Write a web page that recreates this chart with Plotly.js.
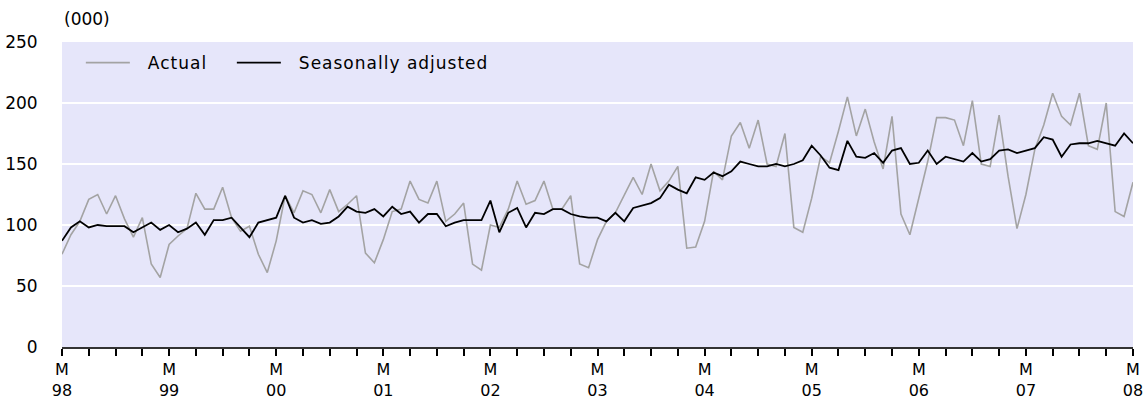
<!DOCTYPE html>
<html>
<head>
<meta charset="utf-8">
<script src="https://cdn.plot.ly/plotly-3.0.1.min.js"></script>
<style>
html,body{margin:0;padding:0;background:#fff;}
.legendtext{letter-spacing:1px;transform:translateX(13px);}
.legend .scrollbox{clip-path:none !important;}
</style>
</head>
<body>
<div id="chart" style="width:1143px;height:410px;"></div>
<script>
// Monthly observations, March 1998 to March 2008 (thousands)
const startYear = 1998;
const startMonth = 3;
const actual = [
  76, 92, 103, 121, 125, 109, 124, 105, 90, 106, 68, 57,
  84, 91, 97, 126, 113, 113, 131, 106, 95, 99, 76, 61,
  87, 124, 110, 128, 125, 110, 129, 111, 117, 124, 77, 69,
  88, 111, 113, 136, 121, 118, 136, 103, 109, 118, 68, 63,
  100, 98, 113, 136, 117, 120, 136, 113, 113, 124, 68, 65,
  88, 103, 110, 125, 139, 125, 150, 128, 136, 148, 81, 82,
  103, 144, 137, 173, 184, 163, 186, 150, 148, 175, 98, 94,
  122, 156, 151, 177, 205, 173, 195, 168, 146, 189, 109, 92,
  121, 152, 188, 188, 186, 165, 202, 150, 148, 190, 140, 97,
  125, 162, 182, 208, 189, 182, 208, 165, 162, 200, 111, 107,
  135
];
const seasonallyAdjusted = [
  87, 98, 103, 98, 100, 99, 99, 99, 94, 98, 102, 96,
  100, 94, 97, 102, 92, 104, 104, 106, 98, 90, 102, 104,
  106, 124, 106, 102, 104, 101, 102, 107, 115, 111, 110, 113,
  107, 115, 109, 111, 102, 109, 109, 99, 102, 104, 104, 104,
  120, 94, 110, 114, 98, 110, 109, 113, 113, 109, 107, 106,
  106, 103, 110, 103, 114, 116, 118, 122, 133, 129, 126, 139,
  137, 143, 140, 144, 152, 150, 148, 148, 150, 148, 150, 153,
  165, 157, 147, 145, 169, 156, 155, 159, 151, 161, 163, 150,
  151, 161, 150, 156, 154, 152, 159, 152, 154, 161, 162, 159,
  161, 163, 172, 170, 156, 166, 167, 167, 169, 167, 165, 175,
  167
];
const yTicks = [0, 50, 100, 150, 200, 250];
const unitLabel = "(000)";
const seriesNames = ["Actual", "Seasonally adjusted"];

// month index positions and labels
const monthIdx = actual.map((_, i) => i);
const monthLabels = monthIdx.map(i => {
  const m0 = startMonth - 1 + i;
  const y = startYear + Math.floor(m0 / 12);
  const m = (m0 % 12) + 1;
  return y + "-" + String(m).padStart(2, "0");
});
const tickVals = monthIdx.filter(i => i % 3 === 0);
const tickText = tickVals.map(i => i % 12 === 0
  ? "M<br>" + monthLabels[i].slice(2, 4) : "");

const font = "DejaVu Sans, Verdana, sans-serif";

const traces = [
  {
    x: monthIdx, y: actual, name: seriesNames[0], type: "scatter", mode: "lines",
    line: {color: "#A3A3A3", width: 1.6}, text: monthLabels, hoverinfo: "text+y"
  },
  {
    x: monthIdx, y: seasonallyAdjusted, name: seriesNames[1], type: "scatter", mode: "lines",
    line: {color: "#000000", width: 1.8}, text: monthLabels, hoverinfo: "text+y"
  }
];

const layout = {
  width: 1143, height: 410,
  margin: {l: 62, r: 10, t: 42, b: 63, pad: 0},
  paper_bgcolor: "#ffffff",
  plot_bgcolor: "#E6E6FA",
  font: {family: font, size: 17, color: "#000"},
  showlegend: true,
  legend: {
    orientation: "h", x: 0.0176, y: 0.99, xanchor: "left", yanchor: "top",
    bgcolor: "rgba(0,0,0,0)", font: {family: font, size: 17, color: "#000"},
    traceorder: "normal", itemwidth: 44, entrywidth: 92
  },
  xaxis: {
    range: [0, monthIdx.length - 1],
    tickmode: "array", tickvals: tickVals, ticktext: tickText,
    ticks: "outside", ticklen: 7, tickwidth: 2, tickcolor: "#000",
    showline: true, linecolor: "#333", linewidth: 2,
    showgrid: false, zeroline: false, ticklabeloverflow: "allow",
    tickfont: {family: font, size: 16, color: "#000"},
    fixedrange: true
  },
  yaxis: {
    range: [0, 250],
    tickmode: "array", tickvals: yTicks,
    ticks: "outside", ticklen: 20, tickcolor: "rgba(0,0,0,0)",
    showgrid: true, gridcolor: "#ffffff", gridwidth: 2,
    zeroline: false, showline: false,
    tickfont: {family: font, size: 17, color: "#000"},
    fixedrange: true
  },
  annotations: [{
    text: unitLabel, xref: "paper", yref: "paper",
    x: 0, y: 1.075, xanchor: "left", yanchor: "middle", showarrow: false,
    font: {family: font, size: 17, color: "#000"}
  }]
};

Plotly.newPlot("chart", traces, layout, {displayModeBar: false, staticPlot: true});
</script>
</body>
</html>
